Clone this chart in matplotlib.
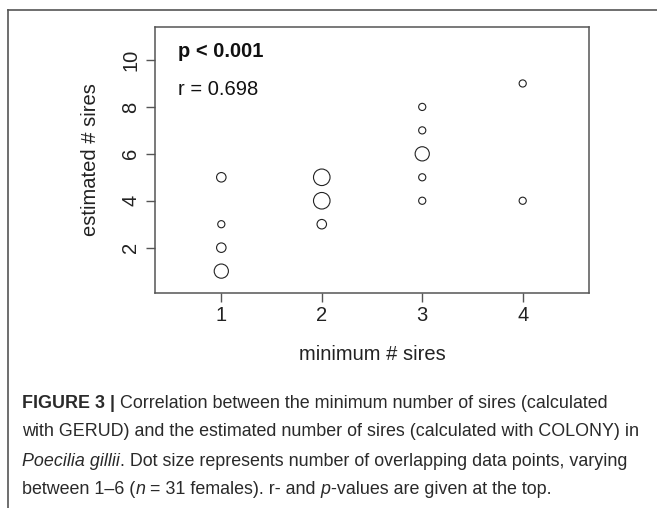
import matplotlib
matplotlib.use('Agg')
import matplotlib.pyplot as plt
from matplotlib.lines import Line2D

plt.rcParams['font.family'] = ['Liberation Sans', 'DejaVu Sans']

# data: minimum # sires (GERUD) vs estimated # sires (COLONY), with overlap counts
min_sires = [1, 1, 1, 1, 2, 2, 2, 3, 3, 3, 3, 3, 4, 4]
est_sires = [5, 3, 2, 1, 5, 4, 3, 8, 7, 6, 5, 4, 9, 4]
counts    = [2, 1, 2, 4, 5, 5, 2, 1, 1, 4, 1, 1, 1, 1]

x_ticks = [1, 2, 3, 4]
y_ticks = [2, 4, 6, 8, 10]
p_text = 'p < 0.001'
r_text = 'r = 0.698'

W, H = 657, 508
fig = plt.figure(figsize=(W / 100, H / 100), dpi=100)

# frame around figure + caption
frame_col = '#555555'
fig.add_artist(Line2D([8 / W, 1], [1 - 10 / H, 1 - 10 / H], transform=fig.transFigure,
                      color=frame_col, lw=1.2))
fig.add_artist(Line2D([8 / W, 8 / W], [0, 1 - 10 / H], transform=fig.transFigure,
                      color=frame_col, lw=1.2))

ax = fig.add_axes([155 / W, 1 - 292.7 / H, (589 - 155) / W, (292.7 - 26.7) / H])

# marker diameter in px grows with number of overlapping points
sizes = [((4.8 + 2.35 * c) * 72 / 100) ** 2 for c in counts]
ax.scatter(min_sires, est_sires, s=sizes, facecolors='none', edgecolors='#222222',
           linewidths=0.8, zorder=3)

ax.set_xlim(0.34, 4.66)
ax.set_ylim(0.08, 11.42)
ax.set_xticks(x_ticks)
ax.set_yticks(y_ticks)
for sp in ax.spines.values():
    sp.set_color('#555555')
    sp.set_linewidth(1.1)
ax.tick_params(colors='#555555', labelcolor='#222222', length=6.5, width=1.0,
               labelsize=14.5)
ax.tick_params(axis='x', pad=3)
ax.tick_params(axis='y', pad=4)
for lab in ax.get_yticklabels():
    lab.set_rotation(90)
    lab.set_va('center')

ax.text(0.57, 10.36, p_text, fontsize=14.5, fontweight='bold', va='center',
        color='#111111')
ax.text(0.57, 8.74, r_text, fontsize=14.5, va='center', color='#111111')

fig.text(372 / W, 1 - 355 / H, 'minimum # sires', fontsize=14.5, ha='center',
         va='center', color='#222222')
fig.text(90 / W, 1 - 160 / H, 'estimated # sires', fontsize=14.5, ha='center',
         va='center', rotation=90, color='#222222')

# caption, drawn piece by piece so styles can mix on one line
cap_col = '#2a2a2a'
cap_size = 12.9
caption = [
    [('FIGURE 3 |', 'bold', 'normal'),
     (' Correlation between the minimum number of sires (calculated', 'normal', 'normal')],
    [('with GERUD) and the estimated number of sires (calculated with COLONY) in', 'normal', 'normal')],
    [('Poecilia gillii', 'normal', 'italic'),
     ('. Dot size represents number of overlapping data points, varying', 'normal', 'normal')],
    [('between 1\u20136 (', 'normal', 'normal'), ('n', 'normal', 'italic'),
     (' = 31 females). r- and ', 'normal', 'normal'), ('p', 'normal', 'italic'),
     ('-values are given at the top.', 'normal', 'normal')],
]
line_y = [403, 432, 461, 490]

renderer = fig.canvas.get_renderer()
for pieces, yy in zip(caption, line_y):
    x0 = 22
    for txt, weight, style in pieces:
        t = fig.text(x0 / W, 1 - yy / H, txt, fontsize=cap_size, fontweight=weight,
                     fontstyle=style, va='center', ha='left', color=cap_col)
        bb = t.get_window_extent(renderer=renderer)
        x0 += bb.width

fig.savefig('out.png', dpi=100)
